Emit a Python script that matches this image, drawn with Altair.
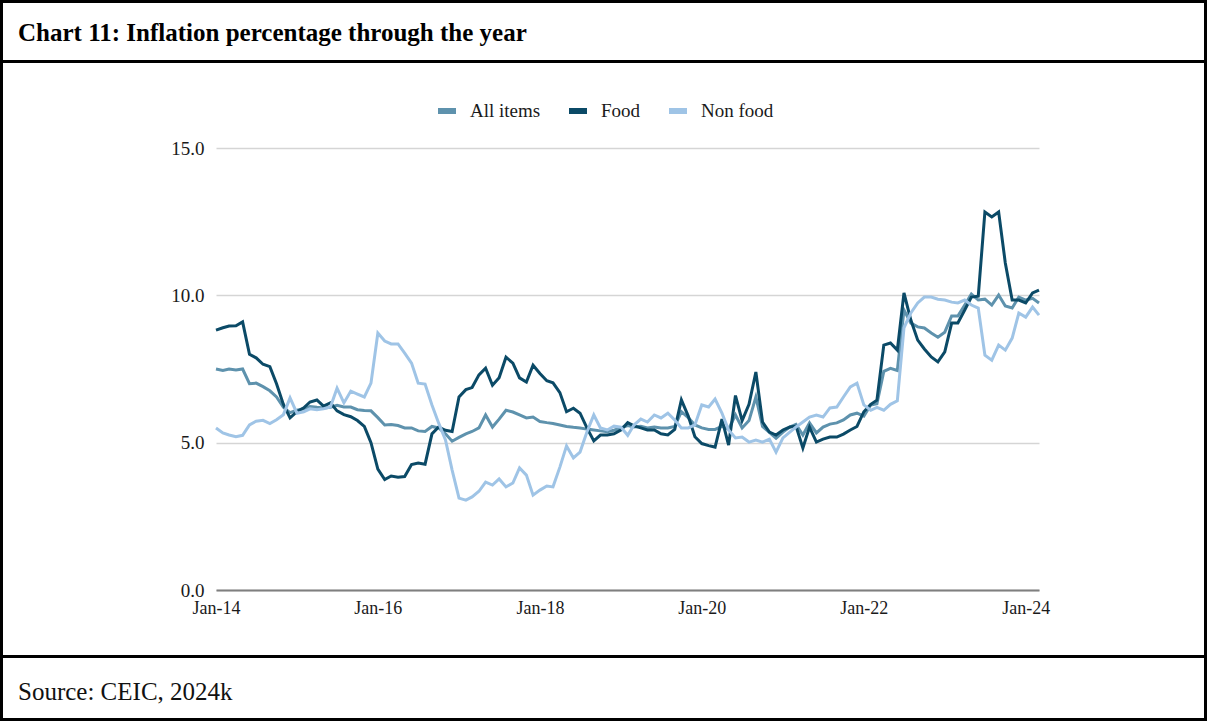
import altair as alt
import pandas as pd

# ---------------- data ----------------
months = pd.date_range("2014-01-01", "2024-03-01", freq="MS").strftime("%Y-%m-%d").tolist()
series_names = ["All items", "Food", "Non food"]

all_items = [
    7.50, 7.45, 7.50, 7.47, 7.50, 7.00, 7.02, 6.90, 6.76, 6.55, 6.20, 6.02,
    6.10, 6.15, 6.23, 6.20, 6.18, 6.20, 6.27, 6.21, 6.21, 6.12, 6.09, 6.08,
    5.85, 5.60, 5.62, 5.58, 5.50, 5.50, 5.40, 5.38, 5.55, 5.50, 5.30, 5.05,
    5.18, 5.30, 5.38, 5.50, 5.94, 5.53, 5.80, 6.10, 6.04, 5.94, 5.84, 5.87,
    5.72, 5.68, 5.65, 5.60, 5.55, 5.52, 5.50, 5.46, 5.43, 5.40, 5.37, 5.42,
    5.50, 5.58, 5.53, 5.56, 5.50, 5.53, 5.50, 5.50, 5.55, 6.05, 5.85, 5.60,
    5.50, 5.45, 5.45, 5.55, 5.46, 5.94, 5.50, 5.75, 6.55, 5.55, 5.35, 5.15,
    5.36, 5.53, 5.62, 5.26, 5.67, 5.33, 5.53, 5.63, 5.67, 5.77, 5.94, 6.00,
    5.90, 6.28, 6.32, 7.42, 7.52, 7.45, 9.50, 9.06, 8.93, 8.89, 8.72, 8.58,
    8.75, 9.30, 9.30, 9.67, 10.04, 9.84, 9.87, 9.67, 10.01, 9.64, 9.57, 9.94,
    9.84, 9.90, 9.74,
]
food = [
    8.82, 8.90, 8.96, 8.97, 9.10, 8.00, 7.88, 7.66, 7.58, 7.00, 6.30, 5.84,
    6.05, 6.18, 6.38, 6.45, 6.24, 6.35, 6.08, 5.95, 5.88, 5.75, 5.55, 5.00,
    4.10, 3.75, 3.87, 3.83, 3.85, 4.26, 4.31, 4.27, 5.30, 5.53, 5.42, 5.38,
    6.55, 6.80, 6.87, 7.30, 7.53, 6.95, 7.20, 7.90, 7.70, 7.20, 7.06, 7.63,
    7.35, 7.10, 7.03, 6.70, 6.05, 6.17, 6.00, 5.50, 5.06, 5.26, 5.26, 5.30,
    5.43, 5.68, 5.57, 5.50, 5.43, 5.43, 5.30, 5.26, 5.45, 6.45, 5.90, 5.20,
    4.97, 4.90, 4.85, 5.80, 4.92, 6.60, 5.75, 6.30, 7.40, 5.70, 5.36, 5.26,
    5.43, 5.53, 5.56, 4.82, 5.53, 5.02, 5.12, 5.19, 5.19, 5.29, 5.43, 5.55,
    6.05, 6.30, 6.44, 8.31, 8.38, 8.14, 10.08, 9.16, 8.48, 8.18, 7.91, 7.74,
    8.08, 9.06, 9.06, 9.50, 9.94, 9.97, 12.83, 12.66, 12.83, 11.10, 9.84, 9.84,
    9.74, 10.08, 10.18,
]
non_food = [
    5.50, 5.33, 5.26, 5.20, 5.25, 5.60, 5.73, 5.76, 5.65, 5.78, 5.95, 6.52,
    6.00, 6.05, 6.15, 6.12, 6.15, 6.21, 6.85, 6.35, 6.75, 6.65, 6.55, 7.02,
    8.72, 8.45, 8.35, 8.35, 8.04, 7.70, 7.02, 6.99, 6.28, 5.67, 5.09, 4.07,
    3.12, 3.05, 3.16, 3.35, 3.66, 3.56, 3.77, 3.50, 3.63, 4.14, 3.90, 3.22,
    3.39, 3.53, 3.50, 4.17, 4.89, 4.48, 4.68, 5.36, 5.94, 5.50, 5.43, 5.56,
    5.53, 5.25, 5.60, 5.80, 5.70, 5.94, 5.84, 6.00, 5.77, 5.50, 5.50, 5.60,
    6.28, 6.21, 6.48, 6.00, 5.43, 5.16, 5.19, 5.02, 5.09, 5.02, 5.12, 4.68,
    5.16, 5.36, 5.53, 5.70, 5.87, 5.94, 5.87, 6.18, 6.21, 6.55, 6.89, 7.02,
    6.28, 6.10, 6.20, 6.10, 6.30, 6.42, 8.90, 9.40, 9.74, 9.94, 9.94, 9.87,
    9.84, 9.77, 9.74, 9.84, 9.67, 9.57, 7.97, 7.80, 8.31, 8.14, 8.55, 9.40,
    9.26, 9.60, 9.33,
]

y_ticks = [0, 5, 10, 15]
x_tick_years = [2014, 2016, 2018, 2020, 2022, 2024]
title_text = "Chart 11: Inflation percentage through the year"
source_text = "Source: CEIC, 2024k"

rows = []
for name, vals in zip(series_names, [all_items, food, non_food]):
    for d, v in zip(months, vals):
        rows.append({"date": d, "series": name, "value": v})
df = pd.DataFrame(rows)

# ---------------- layout ----------------
TOTAL_W, TOTAL_H = 1207, 721
PL, PT = 216, 148
W, H = 823, 442
SERIF = "Liberation Serif"
colors = ["#5e92ad", "#0b4a67", "#9fc4e6"]

lines = alt.Chart(df).mark_line(strokeWidth=3).encode(
    x=alt.X(
        "date:T",
        scale=alt.Scale(
            type="utc",
            domain=[alt.DateTime(year=2014, month=1, date=1, utc=True),
                    alt.DateTime(year=2024, month=3, date=1, utc=True)],
        ),
        axis=alt.Axis(
            title=None, format="%b-%y",
            values=[alt.DateTime(year=y, month=1, date=1, utc=True) for y in x_tick_years],
            grid=False, ticks=False, domainColor="#7f7f7f", domainWidth=2,
            labelFlush=False, labelOverlap=False,
            labelFont=SERIF, labelFontSize=18, labelColor="#1a1a1a", labelPadding=9,
        ),
    ),
    y=alt.Y(
        "value:Q",
        scale=alt.Scale(domain=[0, 15], nice=False),
        axis=alt.Axis(
            title=None, values=y_ticks, format=".1f", grid=True,
            gridColor="#d5d5d5", gridWidth=1.5, domain=False, ticks=False,
            labelFont=SERIF, labelFontSize=19, labelColor="#1a1a1a", labelPadding=12,
        ),
    ),
    color=alt.Color(
        "series:N",
        scale=alt.Scale(domain=series_names, range=colors),
        legend=alt.Legend(
            title=None, orient="none", legendX=219, legendY=-49,
            direction="horizontal", symbolType="stroke", symbolSize=324,
            symbolStrokeWidth=6, labelFont=SERIF, labelFontSize=19,
            labelColor="#1a1a1a", labelOffset=11, columnPadding=16, padding=0,
        ),
    ),
)

frame_df = pd.DataFrame({"k": [0]})

border = alt.Chart(frame_df).mark_rect(filled=False, stroke="black", strokeWidth=3).encode(
    x=alt.value(-PL + 1.5), x2=alt.value(TOTAL_W - PL - 1.5),
    y=alt.value(-PT + 1.5), y2=alt.value(TOTAL_H - PT - 1.5),
)
sep_top = alt.Chart(frame_df).mark_rule(color="black", strokeWidth=3).encode(
    x=alt.value(-PL), x2=alt.value(TOTAL_W - PL), y=alt.value(61.5 - PT),
)
sep_bottom = alt.Chart(frame_df).mark_rule(color="black", strokeWidth=3).encode(
    x=alt.value(-PL), x2=alt.value(TOTAL_W - PL), y=alt.value(656.5 - PT),
)
title_mark = alt.Chart(frame_df).mark_text(
    text=title_text, font=SERIF, fontSize=25, fontWeight="bold",
    align="left", baseline="alphabetic", color="black",
).encode(x=alt.value(18 - PL), y=alt.value(41 - PT))
source_mark = alt.Chart(frame_df).mark_text(
    text=source_text, font=SERIF, fontSize=25,
    align="left", baseline="alphabetic", color="#111111",
).encode(x=alt.value(18 - PL), y=alt.value(700 - PT))

chart = alt.layer(lines, border, sep_top, sep_bottom, title_mark, source_mark).properties(
    width=W, height=H,
    padding={"left": PL, "top": PT, "right": TOTAL_W - PL - W, "bottom": TOTAL_H - PT - H},
    autosize=alt.AutoSizeParams(type="none"),
    background="white",
).configure_view(stroke=None)

chart.save("out.html", embed_options={"renderer": "svg", "actions": False})
